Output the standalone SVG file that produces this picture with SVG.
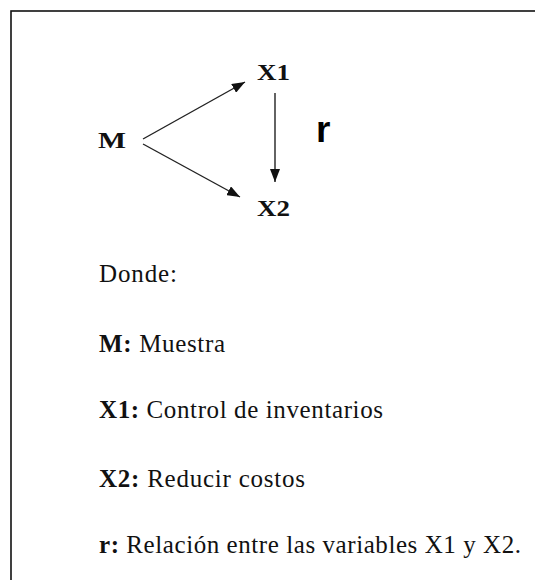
<svg xmlns="http://www.w3.org/2000/svg" width="535" height="580" viewBox="0 0 535 580">
<defs>
<style>
.node{font-family:"Liberation Serif","Times New Roman",serif;font-weight:bold;font-size:23px;fill:#111}
.body{font-family:"Liberation Serif","Times New Roman",serif;font-size:25px;fill:#111}
.b{font-weight:bold}
.conn{stroke:#222;stroke-width:1.4;fill:none}
.r{font-family:"Liberation Sans",Arial,sans-serif;font-weight:bold;font-size:37px;fill:#000}
</style>
<marker id="ah" markerUnits="userSpaceOnUse" markerWidth="14" markerHeight="10" refX="13" refY="5" orient="auto">
<path d="M0,0 L13,5 L0,10 Z" fill="#111"/>
</marker>
</defs>
<rect x="0" y="0" width="535" height="580" fill="#fff"/>
<rect x="11" y="11" width="540" height="590" fill="#fff" stroke="#111" stroke-width="1.6"/>
<g id="connectors">
<line class="conn" x1="143" y1="139" x2="245" y2="82" marker-end="url(#ah)"/>
<line class="conn" x1="143" y1="144" x2="240" y2="197" marker-end="url(#ah)"/>
<line class="conn" x1="275" y1="93" x2="275" y2="182" marker-end="url(#ah)"/>
</g>
<g id="node-M"><text class="node" x="98" y="148" textLength="28" lengthAdjust="spacingAndGlyphs">M</text></g>
<g id="node-X1"><text class="node" x="257" y="80" textLength="33" lengthAdjust="spacingAndGlyphs">X1</text></g>
<g id="node-X2"><text class="node" x="257" y="216" textLength="33" lengthAdjust="spacingAndGlyphs">X2</text></g>
<g id="label-r"><text class="r" x="316" y="142">r</text></g>
<g id="legend">
<text class="body" x="99" y="282" textLength="78">Donde:</text>
<text class="body" x="99" y="352" textLength="126"><tspan class="b">M:</tspan> Muestra</text>
<text class="body" x="99" y="418" textLength="284"><tspan class="b">X1:</tspan> Control de inventarios</text>
<text class="body" x="99" y="487" textLength="206"><tspan class="b">X2:</tspan> Reducir costos</text>
<text class="body" x="99" y="553" textLength="422"><tspan class="b">r:</tspan> Relación entre las variables X1 y X2.</text>
</g>
</svg>
